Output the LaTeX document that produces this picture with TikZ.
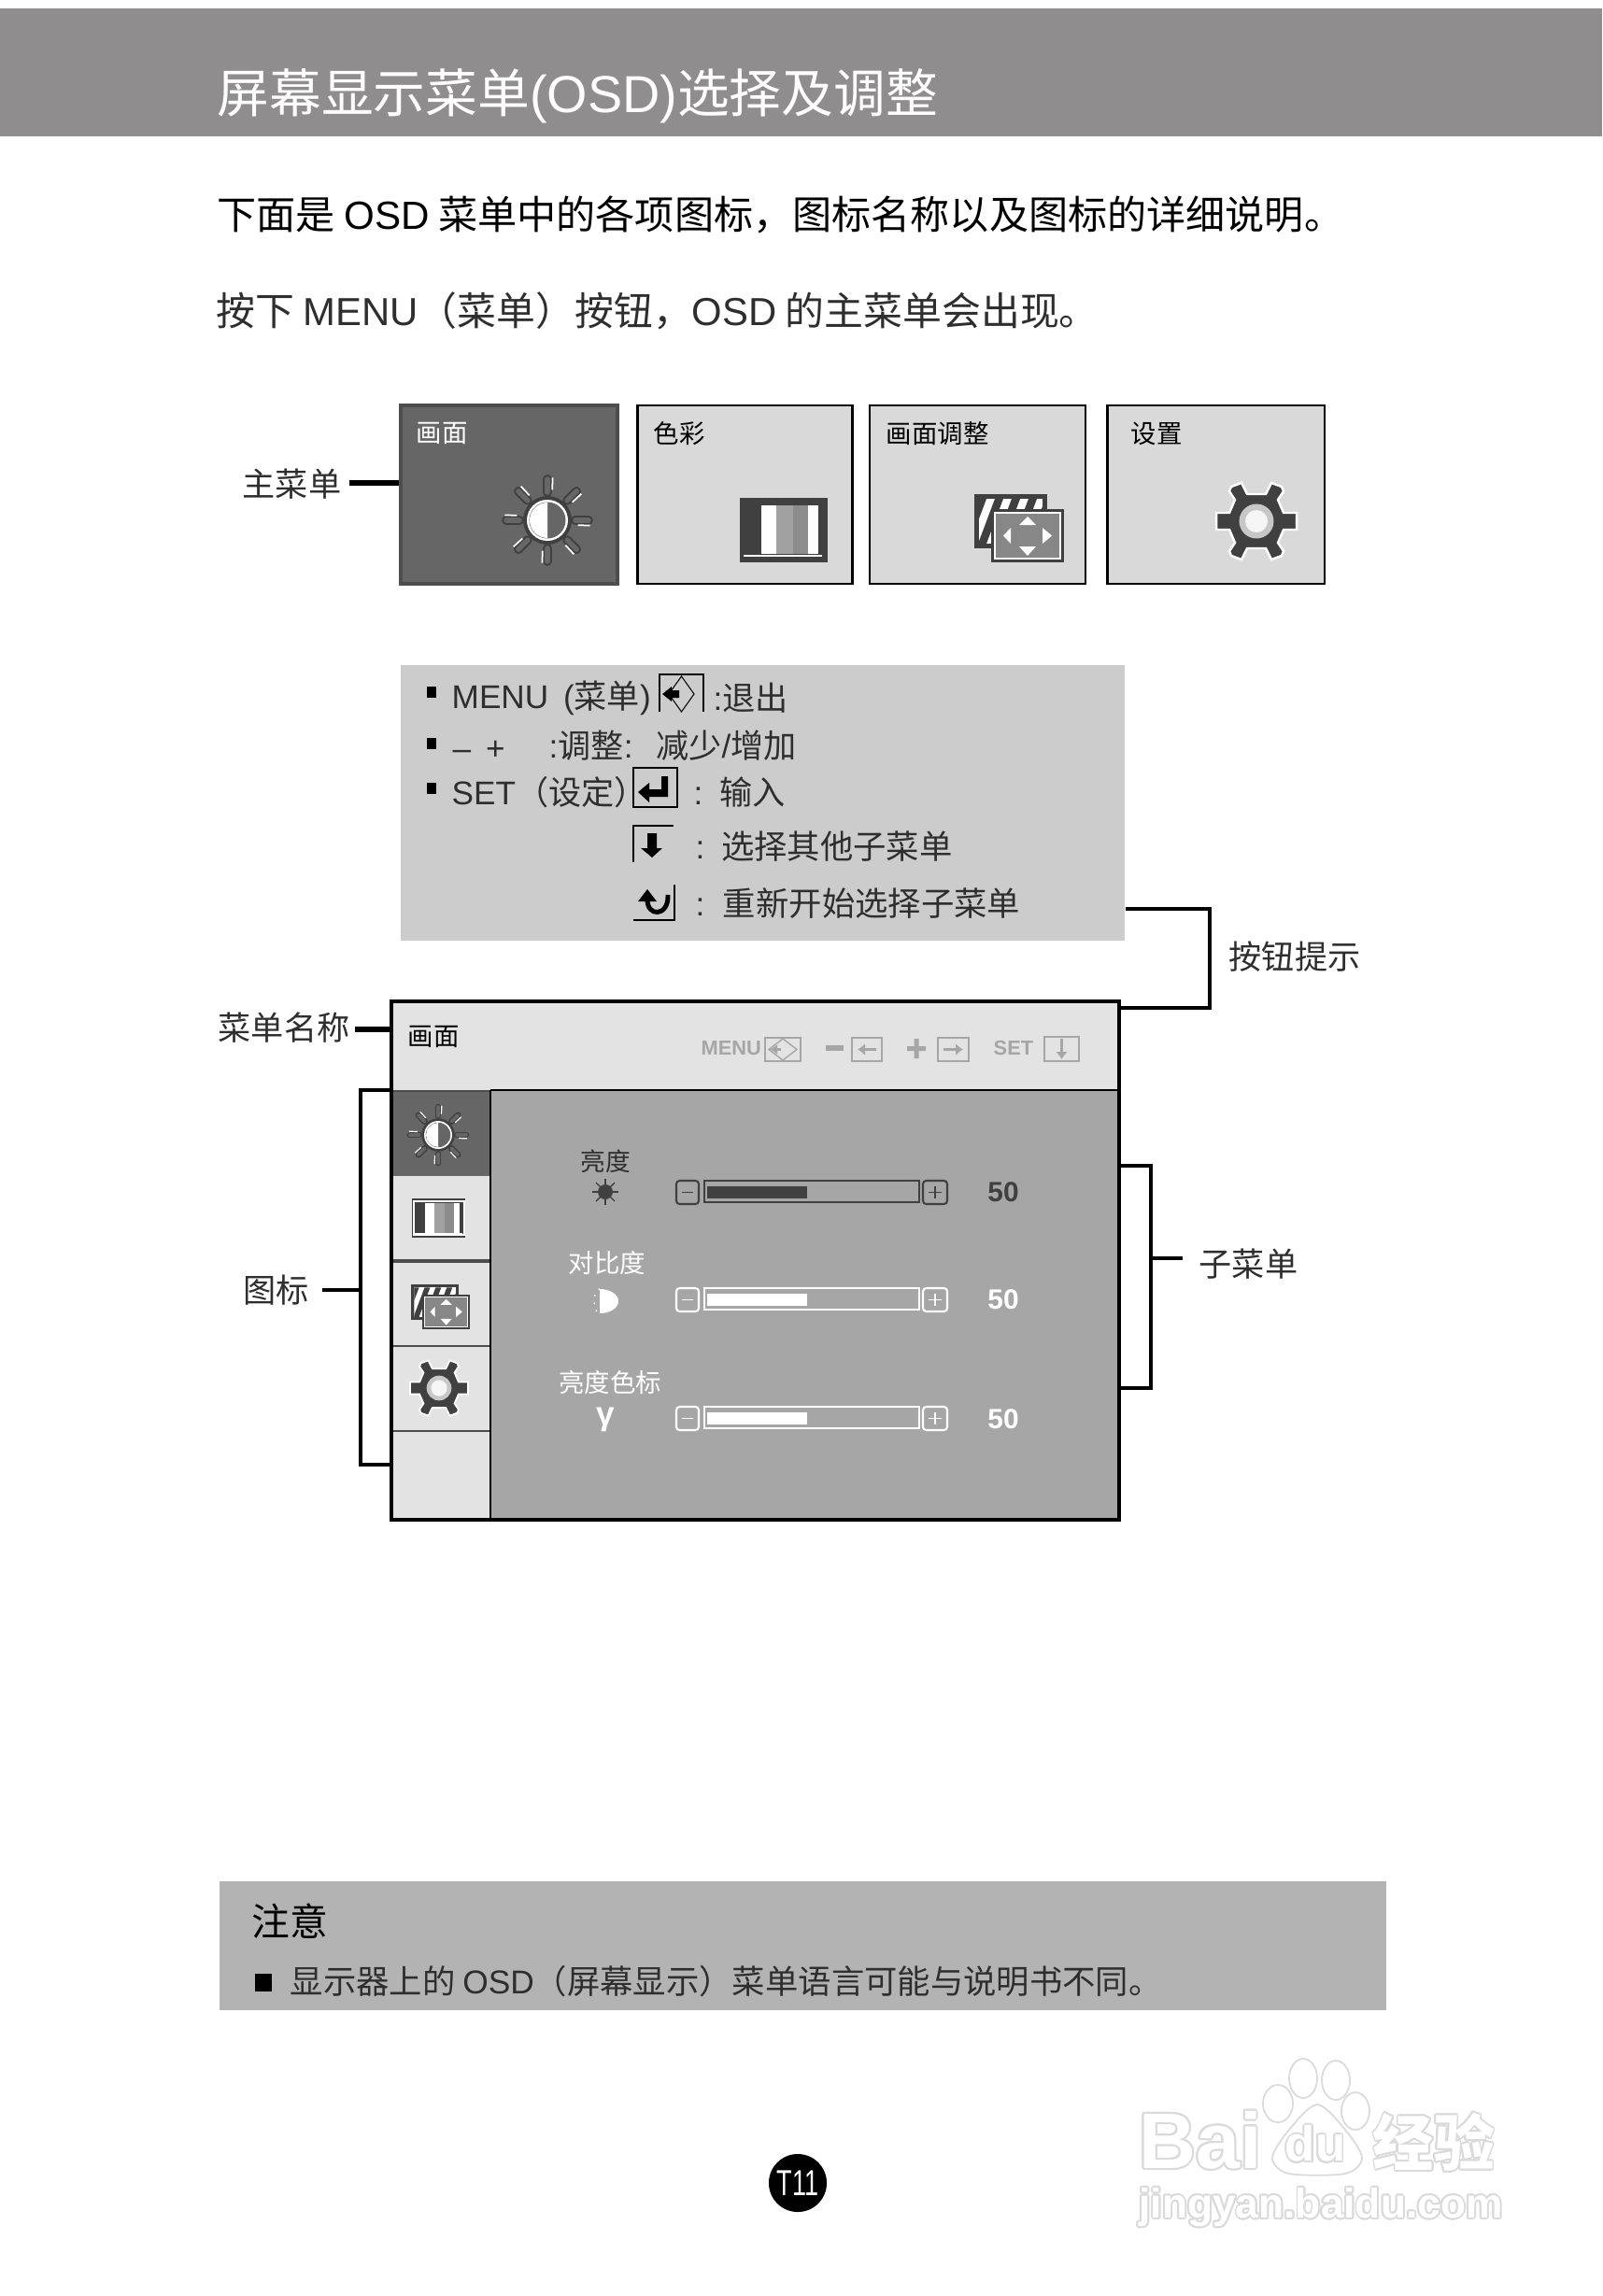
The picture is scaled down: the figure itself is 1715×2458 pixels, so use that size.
\documentclass[tikz,border=0pt]{standalone}
\usepackage{fontspec}
\usepackage{contour}
\setmainfont{Noto Sans CJK SC}
\newfontfamily\lat{Liberation Sans}
\usetikzlibrary{arrows.meta,calc,positioning}
\definecolor{headGray}{HTML}{8F8D8E}
\definecolor{inkGray}{HTML}{2E2E2E}
\definecolor{tileDark}{HTML}{666666}
\definecolor{tileEdge}{HTML}{4D4D4D}
\definecolor{tileLight}{HTML}{D9D9D9}
\definecolor{hintGray}{HTML}{CCCCCC}
\definecolor{osdLight}{HTML}{E3E3E3}
\definecolor{osdGray}{HTML}{A6A6A6}
\definecolor{iconDark}{HTML}{404040}
\definecolor{noteGray}{HTML}{B3B3B3}
\definecolor{markGray}{HTML}{DADADA}
\newcommand{\fsz}[1]{\fontsize{#1}{#1}\selectfont}
\contourlength{.55pt}
% icons, x y scale
\newcommand{\sunicon}[3]{\begin{scope}[shift={(#1,#2)},scale=#3]
  \foreach \a in {0,45,...,315} {
    \draw[iconDark,line width=#3*2.8pt,line cap=round] (\a:30) -- (\a:44);
    \draw[tileDark,line width=#3*1.6pt,line cap=round] (\a:30) -- (\a:44);
    \draw[white,line width=#3*.5pt] (\a+9:33) -- (\a+7:46);
  }
  \fill[iconDark] (0,0) circle (26);
  \fill[white] (0,0) circle (22);
  \fill[tileDark] (0,0) circle (19.5);
  \fill[white] (0,19) arc[start angle=90,end angle=270,radius=19] -- cycle;
\end{scope}}
\newcommand{\colicon}[3]{\begin{scope}[shift={(#1,#2)},scale=#3]
  \fill[iconDark] (0,0) rectangle (94,69);
  \fill[white] (23,8) rectangle (39,60);
  \fill[black!37] (39,8) rectangle (57,60);
  \fill[black!45] (57,8) rectangle (73,60);
  \fill[white] (73,8) rectangle (84,60);
  \fill[white] (4,61) rectangle (88,63);
\end{scope}}
\newcommand{\adjicon}[3]{\begin{scope}[shift={(#1,#2)},scale=#3]
  \fill[iconDark] (0,0) rectangle (78,58);
  \begin{scope}
    \clip (5,5) rectangle (73,53);
    \fill[white] (5,5) rectangle (73,53);
    \foreach \x in {-14,4,...,76} {
      \fill[iconDark] (\x,5) -- (\x+9,5) -- (\x-9,53) -- (\x-18,53) -- cycle;
    }
  \end{scope}
  \fill[iconDark] (18,16) rectangle (96,73);
  \fill[white] (21,19) rectangle (93,70);
  \fill[black!47] (23,21) rectangle (91,68);
  \fill[white] (57,24) -- (66,33) -- (48,33) -- cycle;
  \fill[white] (57,66) -- (66,56) -- (48,56) -- cycle;
  \fill[white] (31,44.5) -- (39,36) -- (39,53) -- cycle;
  \fill[white] (83,44.5) -- (73,36) -- (73,53) -- cycle;
\end{scope}}
\newcommand{\gearicon}[3]{\begin{scope}[shift={(#1,#2)},scale=#3]
  \fill[iconDark,draw=white,line width=#3*.7pt] (-43,-9) -- (-29,-9) -- (-23,-23) -- (-29,-32) -- (-27,-37) -- (-16,-41) -- (-10,-29) -- (10,-29) -- (16,-41) -- (27,-37) -- (29,-32) -- (23,-23) -- (29,-9) -- (43,-9) -- (43,9) -- (29,9) -- (23,23) -- (29,32) -- (27,37) -- (16,41) -- (10,29) -- (-10,29) -- (-16,41) -- (-27,37) -- (-29,32) -- (-23,23) -- (-29,9) -- (-43,9) -- cycle;
  \fill[black!22] (0,0) circle (18.5);
  \fill[black!4] (0,0) circle (12);
\end{scope}}
% slider row, y top and colour
\newcommand{\osdslider}[2]{
  \draw[#2,line width=.6pt,rounded corners=1pt] (724,#1) rectangle (748,#1+25);
  \draw[#2,line width=.4pt] (730,#1+12.5) -- (742,#1+12.5);
  \draw[#2,line width=.7pt] (754,#1) rectangle (984,#1+23);
  \fill[#2] (757,#1+6) rectangle (864,#1+19);
  \draw[#2,line width=.6pt,rounded corners=1pt] (988,#1) rectangle (1014,#1+25);
  \draw[#2,line width=.4pt] (994,#1+12.5) -- (1008,#1+12.5) (1001,#1+6) -- (1001,#1+19);
}
\begin{document}
\begin{tikzpicture}[>=Latex,x=.01cm,y=-.01cm,
    lbl/.style={inner sep=0pt,anchor=west,text=inkGray},
    tile/.style={draw=black,line width=.7pt,fill=tileLight,minimum height=1.91cm,inner sep=0pt},
    smalllbl/.style={inner sep=0pt,anchor=west,font=\fsz{7.8}},
    keyhint/.style={inner sep=0pt,anchor=west,text=osdGray,font=\lat\bfseries\fsz{6.2}},
    keybox/.style={draw=osdGray,line width=.6pt},
    num/.style={inner sep=0pt,font=\lat\bfseries\fsz{8.5}},
    leader/.style={line width=1.1pt},
    thickleader/.style={line width=1.7pt},
    wmark/.style={inner sep=0pt,text=white}]
  \useasboundingbox (0,0) rectangle (1715,2458);

  % head band
  \fill[headGray] (0,9) rectangle (1715,146);
  \node[lbl,text=white,font=\fsz{15.85}] (title) at (232,103) {屏幕显示菜单{\lat (OSD)}选择及调整};
  \node[lbl,text=black,font=\fsz{11.98}] (introa) at (232,230) {下面是 {\lat OSD} 菜单中的各项图标，图标名称以及图标的详细说明。};
  \node[lbl,font=\fsz{11.9}] (introb) at (231,333) {按下 {\lat MENU}（菜单）按钮，{\lat OSD} 的主菜单会出现。};

  % main menu
  \node[tile,draw=tileEdge,line width=1.2pt,fill=tileDark,minimum width=2.32cm] (tilepic) at (545,529.5) {};
  \node[tile,minimum width=2.3cm,right=.18cm of tilepic] (tilecol) {};
  \node[tile,minimum width=2.31cm,right=.16cm of tilecol] (tileadj) {};
  \node[tile,minimum width=2.32cm,right=.21cm of tileadj] (tileset) {};
  \node[smalllbl,text=white] (lblpic) at (445,464) {画面};
  \node[smalllbl,text=black] (lblcol) at (699,464) {色彩};
  \node[smalllbl,text=black] (lbladj) at (948,464) {画面调整};
  \node[smalllbl,text=black] (lblset) at (1210,464) {设置};
  \sunicon{586}{557}{1}
  \colicon{792}{533}{1}
  \adjicon{1043}{529}{1}
  \gearicon{1345}{558}{1}
  \node[lbl,font=\fsz{10}] (mainlbl) at (259,518) {主菜单};
  \draw[thickleader,shorten <=.08cm] (mainlbl.east |- 0,517) -- (tilepic.west |- 0,517);

  % key hints
  \node[fill=hintGray,minimum width=7.75cm,minimum height=2.95cm,inner sep=0pt] (hintbox) at (816.5,859.5) {};
  \foreach \y in {735,790,838} {
    \fill[black] (457,\y) rectangle (467,\y+12);
  }
  \node[lbl,font=\fsz{10}] (hintmenu) at (483,747) {{\lat MENU\hspace{.45em}(}菜单{\lat )}};
  \node[lbl,font=\fsz{10}] (hintquit) at (763,747) {{\lat :}退出};
  \node[lbl,font=\fsz{10}] (hintminus) at (484,803) {{\lat –\hspace{.45em}+}};
  \node[lbl,font=\fsz{10}] (hintadj) at (587,798) {{\lat :}调整{\lat :}\hspace{.7em}减少{\lat /}增加};
  \node[lbl,font=\fsz{10}] (hintset) at (483,848) {{\lat SET}（设定）};
  \node[lbl,font=\fsz{10}] (hintenter) at (742,848) {{\lat :}\hspace{.52em}输入};
  \node[lbl,font=\fsz{10.05}] (hintnext) at (744,906) {{\lat :}\hspace{.5em}选择其他子菜单};
  \node[lbl,font=\fsz{10.05}] (hintagain) at (744,967) {{\lat :}\hspace{.55em}重新开始选择子菜单};
  % keys
  \draw[line width=.6pt] (706,762) -- (706,722) -- (753,722) -- (753,762);
  \draw[line width=.3pt] (729.5,724) -- (743,743) -- (729.5,762) -- (716,743) -- cycle;
  \fill[black] (709,743) -- (719,735) -- (719,739) -- (727,739) -- (727,747) -- (719,747) -- (719,751) -- cycle;
  \draw[line width=.6pt] (678,822) rectangle (725,864);
  \fill[black] (683,848) -- (695,838) -- (695,845) -- (708,845) -- (708,831) -- (715,831) -- (715,853) -- (695,853) -- (695,859) -- cycle;
  \draw[line width=.5pt] (678,923) -- (678,884) -- (721,884);
  \fill[black] (693,892) -- (703,892) -- (703,908) -- (709,908) -- (698,918) -- (686,908) -- (693,908) -- cycle;
  \draw[line width=.5pt] (722,947) -- (722,985) -- (678,985);
  \draw[line width=1.4pt] (715,958) .. controls (716,982) and (692,982) .. (693,962);
  \fill[black] (693,952) -- (703,965) -- (683,965) -- cycle;

  % osd panel
  \fill[osdLight] (417,1070) rectangle (1199,1167);
  \fill[osdLight] (417,1167) rectangle (525,1629);
  \fill[osdGray] (525,1167) rectangle (1199,1629);
  \fill[tileDark] (419,1168) rectangle (525,1259);
  \draw[line width=.8pt] (525,1167) -- (1199,1167);
  \draw[tileEdge,line width=.7pt] (419,1168) -- (525,1168);
  \draw[tileEdge,line width=1pt] (419,1350) -- (525,1350);
  \draw[tileEdge,line width=.5pt] (419,1441) -- (525,1441);
  \draw[tileEdge,line width=.7pt] (419,1532) -- (525,1532);
  \draw[line width=.6pt] (525,1167) -- (525,1629);
  \sunicon{469}{1215}{.68}
  \colicon{441}{1283}{.61}
  \draw[white,line width=.4pt] (443,1286) rectangle (497,1322);
  \adjicon{440}{1375}{.66}
  \gearicon{470}{1486}{.72}
  \node[smalllbl,text=black] (lblosd) at (436,1110) {画面};
  % osd keys
  \node[keyhint] (keymenu) at (750,1122) {MENU};
  \draw[keybox] (819,1111) rectangle (857,1136);
  \draw[osdGray,line width=.4pt] (838,1112) -- (853,1123.5) -- (838,1135) -- (823,1123.5) -- cycle;
  \draw[osdGray,line width=.9pt,-{Latex[length=.08cm,width=.11cm]}] (836,1123.5) -- (824,1123.5);
  \fill[osdGray] (884,1119) rectangle (903,1125);
  \draw[keybox] (912,1111) rectangle (944,1136);
  \draw[osdGray,line width=1.1pt,-{Latex[length=.08cm,width=.13cm]}] (938,1123.5) -- (918,1123.5);
  \fill[osdGray] (971,1120) rectangle (991,1125) (978.5,1112) rectangle (983.5,1133);
  \draw[keybox] (1004,1111) rectangle (1037,1136);
  \draw[osdGray,line width=1.1pt,-{Latex[length=.08cm,width=.13cm]}] (1010,1123.5) -- (1031,1123.5);
  \node[keyhint] (keyset) at (1063,1122) {SET};
  \draw[keybox] (1118,1110) rectangle (1155,1136);
  \draw[osdGray,line width=1.1pt,-{Latex[length=.08cm,width=.13cm]}] (1136.5,1112) -- (1136.5,1134);
  % osd rows
  \node[inner sep=0pt,text=inkGray,font=\fsz{7.6}] (rowbright) at (648,1243) {亮度};
  \foreach \a in {0,45,...,315} {
    \draw[iconDark,line width=.4pt] (648,1276) -- ++(\a:14);
  }
  \fill[iconDark] (648,1276) circle (8);
  \osdslider{1264}{iconDark}
  \node[num,text=iconDark] (valbright) at (1074,1276) {50};
  \node[inner sep=0pt,text=white,font=\fsz{7.8}] (rowcontrast) at (650,1352) {对比度};
  \fill[white] (642,1380) arc[start angle=-90,end angle=90,x radius=20,y radius=13] -- cycle;
  \draw[white,line width=.4pt,dotted] (642,1380) arc[start angle=-90,end angle=-270,x radius=6,y radius=13];
  \osdslider{1379}{white}
  \node[num,text=white] (valcontrast) at (1074,1391) {50};
  \node[inner sep=0pt,text=white,font=\fsz{7.8}] (rowgamma) at (653,1480) {亮度色标};
  \node[inner sep=0pt,text=white,font=\lat\bfseries\fsz{10}] (gammasign) at (648,1520) {γ};
  \osdslider{1506}{white}
  \node[num,text=white] (valgamma) at (1074,1519) {50};
  \node[draw=black,line width=1.2pt,minimum width=7.79cm,minimum height=5.55cm,inner sep=0pt] (osdpanel) at (808.5,1349.5) {};

  % call-outs
  \coordinate (hintFrom) at (hintbox.east |- 0,973);
  \coordinate (hintBend) at (1295,1025);
  \coordinate (hintTo) at (osdpanel.east |- 0,1079);
  \draw[leader] (hintFrom) -| (hintBend) |- (hintTo);
  \node[lbl,font=\fsz{10}] (hintlbl) at (1315,1024) {按钮提示};
  \node[lbl,font=\fsz{10}] (namelbl) at (233,1100) {菜单名称};
  \draw[thickleader,shorten <=.05cm] (namelbl.east |- 0,1102) -- (osdpanel.west |- 0,1102);
  \coordinate (iconTop) at (osdpanel.west |- 0,1167);
  \coordinate (iconBend) at (386,1381);
  \coordinate (iconBot) at (osdpanel.west |- 0,1568);
  \draw[line width=1.3pt] (iconTop) -| (iconBend) |- (iconBot);
  \node[lbl,font=\fsz{10}] (iconlbl) at (260,1381) {图标};
  \draw[leader,shorten <=.13cm] (iconlbl.east |- iconBend) -- (iconBend);
  \coordinate (subTop) at (osdpanel.east |- 0,1248);
  \coordinate (subBend) at (1232,1347);
  \coordinate (subBot) at (osdpanel.east |- 0,1486);
  \draw[leader] (subTop) -| (subBend) |- (subBot);
  \node[lbl,font=\fsz{10}] (sublbl) at (1283,1353) {子菜单};
  \draw[leader,shorten <=.17cm] (sublbl.west |- subBend) -- (subBend);

  % note
  \node[fill=noteGray,minimum width=12.49cm,minimum height=1.38cm,inner sep=0pt] (notebar) at (859.5,2083) {};
  \node[lbl,text=black,font=\fsz{11.6}] (notehead) at (269,2057) {注意};
  \fill[black] (273,2113) rectangle (291,2132);
  \node[lbl,font=\fsz{10.05}] (notetext) at (310,2121) {显示器上的 {\lat OSD}（屏幕显示）菜单语言可能与说明书不同。};

  % page number
  \node[circle,fill=black,minimum size=.62cm,inner sep=0pt,text=white,font=\lat\fsz{11}] (pagenum) at (854,2337) {\scalebox{.7}[1]{T11}};

  % watermark
  \begin{scope}[markGray,line width=.5pt]
    \draw[fill=white] (1395,2225) ellipse (15 and 21);
    \draw[fill=white] (1430,2227) ellipse (15 and 21);
    \draw[fill=white] (1368,2252) ellipse (16 and 20);
    \draw[fill=white] (1451,2260) ellipse (15 and 20);
    \draw[fill=white] plot[smooth cycle] coordinates {(1410,2253) (1440,2280) (1458,2310) (1440,2327) (1380,2327) (1362,2310) (1380,2280)};
  \end{scope}
  \node[wmark,font=\lat\bfseries\fsz{24}] (markbai) at (1285,2292) {\contour{markGray}{Bai}};
  \node[wmark,font=\lat\bfseries\fsz{15}] (markdu) at (1408,2296) {\contour{markGray}{du}};
  \node[wmark,font=\bfseries\fsz{18.5}] (markjy) at (1535,2294) {\contour{markGray}{经验}};
  \node[wmark,font=\lat\bfseries\fsz{12.6}] (markurl) at (1414,2364) {\contour{markGray}{jingyan.baidu.com}};
\end{tikzpicture}
\end{document}
